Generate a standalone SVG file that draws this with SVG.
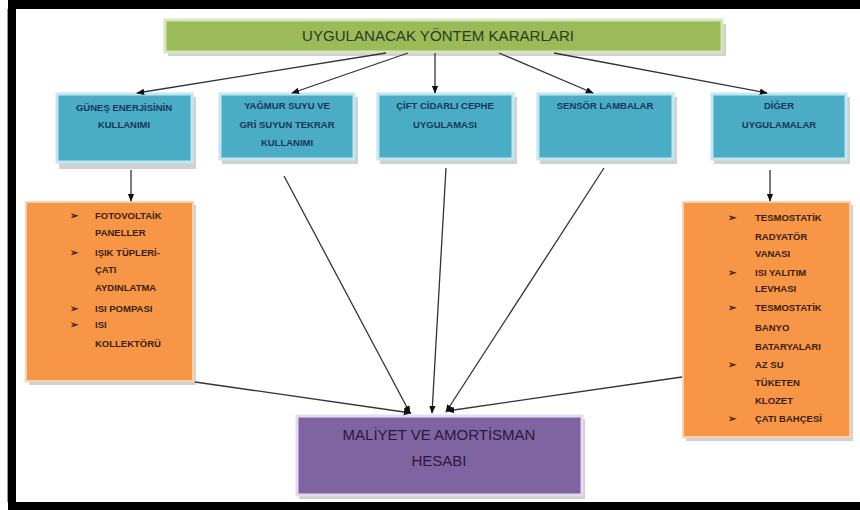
<svg xmlns="http://www.w3.org/2000/svg" width="860" height="510" viewBox="0 0 860 510">
<defs>
<marker id="ah" viewBox="0 0 10 10" refX="9" refY="5" markerWidth="8" markerHeight="8" orient="auto" markerUnits="userSpaceOnUse"><path d="M0,1 L10,5 L0,9 z" fill="#111"/></marker>
</defs>
<style>
.frame{fill:#000}
.shadow{fill:#bdbdbd;opacity:0.7}
.green{fill:#9bbb59;stroke:#d8e6bd;stroke-width:3}
.blue{fill:#4bacc6;stroke:#c4e6f0;stroke-width:3}
.orange{fill:#f79646;stroke:#fbd0ae;stroke-width:2}
.purple{fill:#8064a2;stroke:#e3dbef;stroke-width:3}
.t-title{font-family:"Liberation Sans",Arial,sans-serif;font-size:14px;fill:#2e3a1f;text-anchor:middle}
.t-blue{font-family:"Liberation Sans",Arial,sans-serif;font-size:9.5px;font-weight:bold;fill:#17365d;text-anchor:middle}
.t-or{font-family:"Liberation Sans",Arial,sans-serif;font-size:9.5px;font-weight:bold;fill:#3a1e0c}
.t-pu{font-family:"Liberation Sans",Arial,sans-serif;font-size:15px;fill:#2b1740;text-anchor:middle}
.conn line{stroke:#333;stroke-width:1.3;marker-end:url(#ah)}
</style>
<rect x="0" y="0" width="860" height="510" fill="#fff"/>
<rect class="frame" x="8" y="0" width="852" height="9"/>
<rect class="frame" x="8" y="0" width="8" height="510"/>
<rect class="frame" x="8" y="502" width="852" height="8"/>
<rect x="7" y="9" width="1" height="493" fill="#999"/>

<g id="top">
<rect class="shadow" x="168" y="24" width="558" height="32"/>
<rect class="green" x="165" y="20" width="557" height="32"/>
<text class="t-title" x="438" y="41" textLength="272" lengthAdjust="spacingAndGlyphs">UYGULANACAK YÖNTEM KARARLARI</text>
</g>

<g id="b1">
<rect class="shadow" x="59" y="97" width="137" height="72"/>
<rect class="blue" x="57" y="94" width="135" height="68"/>
<text class="t-blue" x="124" y="111">GÜNEŞ ENERJİSİNİN</text>
<text class="t-blue" x="124" y="128">KULLANIMI</text>
</g>
<g id="b2">
<rect class="shadow" x="222" y="97" width="136" height="67"/>
<rect class="blue" x="220" y="94" width="134" height="65"/>
<text class="t-blue" x="287" y="109">YAĞMUR SUYU VE</text>
<text class="t-blue" x="287" y="128">GRİ SUYUN TEKRAR</text>
<text class="t-blue" x="287" y="146">KULLANIMI</text>
</g>
<g id="b3">
<rect class="shadow" x="380" y="97" width="137" height="67"/>
<rect class="blue" x="378" y="94" width="135" height="65"/>
<text class="t-blue" x="445" y="109">ÇİFT CİDARLI CEPHE</text>
<text class="t-blue" x="445" y="128">UYGULAMASI</text>
</g>
<g id="b4">
<rect class="shadow" x="540" y="97" width="137" height="67"/>
<rect class="blue" x="538" y="94" width="135" height="65"/>
<text class="t-blue" x="605" y="109">SENSÖR LAMBALAR</text>
</g>
<g id="b5">
<rect class="shadow" x="714" y="97" width="136" height="67"/>
<rect class="blue" x="712" y="94" width="134" height="65"/>
<text class="t-blue" x="779" y="109">DİĞER</text>
<text class="t-blue" x="779" y="128">UYGULAMALAR</text>
</g>

<g id="o1">
<rect class="shadow" x="29" y="205" width="167" height="180"/>
<rect class="orange" x="26" y="202" width="167" height="179"/>
<text class="t-or" x="70" y="219">➢</text>
<text class="t-or" x="95" y="219">FOTOVOLTAİK</text>
<text class="t-or" x="95" y="236">PANELLER</text>
<text class="t-or" x="70" y="256">➢</text>
<text class="t-or" x="95" y="256">IŞIK TÜPLERİ-</text>
<text class="t-or" x="95" y="273">ÇATI</text>
<text class="t-or" x="95" y="291">AYDINLATMA</text>
<text class="t-or" x="70" y="312">➢</text>
<text class="t-or" x="95" y="312">ISI POMPASI</text>
<text class="t-or" x="70" y="328">➢</text>
<text class="t-or" x="95" y="328">ISI</text>
<text class="t-or" x="95" y="347">KOLLEKTÖRÜ</text>
</g>

<g id="o2">
<rect class="shadow" x="686" y="205" width="167" height="236"/>
<rect class="orange" x="683" y="202" width="167" height="235"/>
<text class="t-or" x="728" y="221">➢</text>
<text class="t-or" x="755" y="221">TESMOSTATİK</text>
<text class="t-or" x="755" y="240">RADYATÖR</text>
<text class="t-or" x="755" y="257">VANASI</text>
<text class="t-or" x="728" y="276">➢</text>
<text class="t-or" x="755" y="276">ISI YALITIM</text>
<text class="t-or" x="755" y="292">LEVHASI</text>
<text class="t-or" x="728" y="311">➢</text>
<text class="t-or" x="755" y="311">TESMOSTATİK</text>
<text class="t-or" x="755" y="331">BANYO</text>
<text class="t-or" x="755" y="350">BATARYALARI</text>
<text class="t-or" x="728" y="368">➢</text>
<text class="t-or" x="755" y="368">AZ SU</text>
<text class="t-or" x="755" y="386">TÜKETEN</text>
<text class="t-or" x="755" y="404">KLOZET</text>
<text class="t-or" x="728" y="422">➢</text>
<text class="t-or" x="755" y="422">ÇATI BAHÇESİ</text>
</g>

<g id="bottom">
<rect class="shadow" x="299" y="419" width="286" height="80"/>
<rect class="purple" x="297" y="416" width="285" height="79"/>
<text class="t-pu" x="439" y="440">MALİYET VE AMORTİSMAN</text>
<text class="t-pu" x="439" y="466">HESABI</text>
</g>

<g id="connectors" class="conn">
<line x1="386" y1="53" x2="137" y2="93"/>
<line x1="408" y1="53" x2="292" y2="93"/>
<line x1="435" y1="53" x2="435" y2="93"/>
<line x1="499" y1="53" x2="593" y2="93"/>
<line x1="554" y1="53" x2="767" y2="93"/>
<line x1="131" y1="170" x2="131" y2="201"/>
<line x1="770" y1="170" x2="770" y2="201"/>
<line x1="195" y1="382" x2="411" y2="413"/>
<line x1="284" y1="176" x2="410" y2="413"/>
<line x1="446" y1="168" x2="432" y2="413"/>
<line x1="604" y1="168" x2="446" y2="412"/>
<line x1="682" y1="377" x2="447" y2="411"/>
</g>
</svg>
